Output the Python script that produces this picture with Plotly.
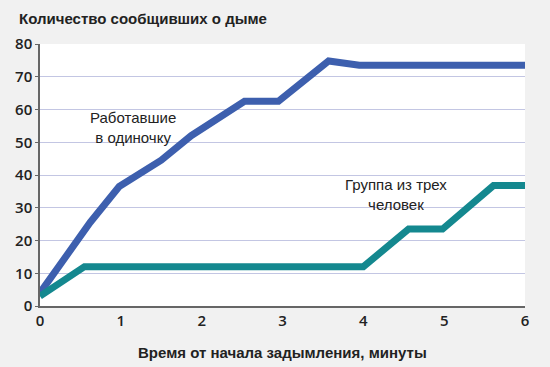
import plotly.graph_objects as go

# Data
alone_x = [0, 0.62, 0.98, 1.5, 1.87, 2.53, 2.95, 3.57, 3.95, 6]
alone_y = [4, 25.5, 36.5, 44.5, 52, 62.5, 62.5, 74.8, 73.5, 73.5]

group_x = [0, 0.55, 4.0, 4.56, 4.98, 5.61, 6]
group_y = [3, 12, 12, 23.5, 23.5, 36.8, 36.8]

x_ticks = [0, 1, 2, 3, 4, 5, 6]
y_ticks = [0, 10, 20, 30, 40, 50, 60, 70, 80]

title_text = "Количество сообщивших о дыме"
x_title = "Время от начала задымления, минуты"
label_alone = "Работавшие<br>в одиночку"
label_group = "Группа из трех<br>человек"

FONT = "Liberation Sans, Arial, sans-serif"
TICKFONT = dict(family="Open Sans, Liberation Sans, sans-serif", size=15, color="#222", weight=600)

fig = go.Figure()
fig.add_trace(go.Scatter(x=alone_x, y=alone_y, mode="lines",
                         line=dict(color="#3d5fae", width=7), hoverinfo="skip"))
fig.add_trace(go.Scatter(x=group_x, y=group_y, mode="lines",
                         line=dict(color="#14888f", width=7), hoverinfo="skip"))

fig.add_annotation(x=1.15, y=54.6, text=label_alone, showarrow=False,
                   font=dict(family=FONT, size=15, color="#222"), align="center")
fig.add_annotation(x=4.41, y=34, text=label_group, showarrow=False,
                   font=dict(family=FONT, size=15, color="#222"), align="center")

fig.add_annotation(xref="paper", yref="paper", x=-0.048, y=1.0, yshift=26,
                   xanchor="left", yanchor="middle", text="<b>" + title_text + "</b>",
                   showarrow=False, font=dict(family=FONT, size=15, color="#222"))

fig.add_annotation(xref="paper", yref="paper", x=0.5, y=0, yshift=-46,
                   xanchor="center", yanchor="middle", text="<b>" + x_title + "</b>",
                   showarrow=False, font=dict(family=FONT, size=15, color="#222"))

fig.update_layout(
    width=550, height=367,
    margin=dict(l=40, r=25, t=44, b=61),
    paper_bgcolor="#f1f1f1", plot_bgcolor="#ffffff",
    showlegend=False,
    font=dict(family=FONT, size=15, color="#222"),
    xaxis=dict(range=[0, 6], tickvals=x_ticks, showgrid=False, zeroline=False,
               showline=True, linecolor="#666", linewidth=1.5, automargin=False,
               ticks="", tickfont=TICKFONT),
    yaxis=dict(range=[0, 80], tickvals=y_ticks, showgrid=True, gridcolor="#c3c6e3", gridwidth=1.2,
               zeroline=False, showline=True, linecolor="#666", linewidth=1.5, automargin=False,
               ticks="outside", ticklen=3, tickcolor="#666", tickfont=TICKFONT),
)

fig.write_html("out.html", config={"displayModeBar": False},
               post_script="document.body.style.margin='0';document.body.style.background='#f1f1f1';")
